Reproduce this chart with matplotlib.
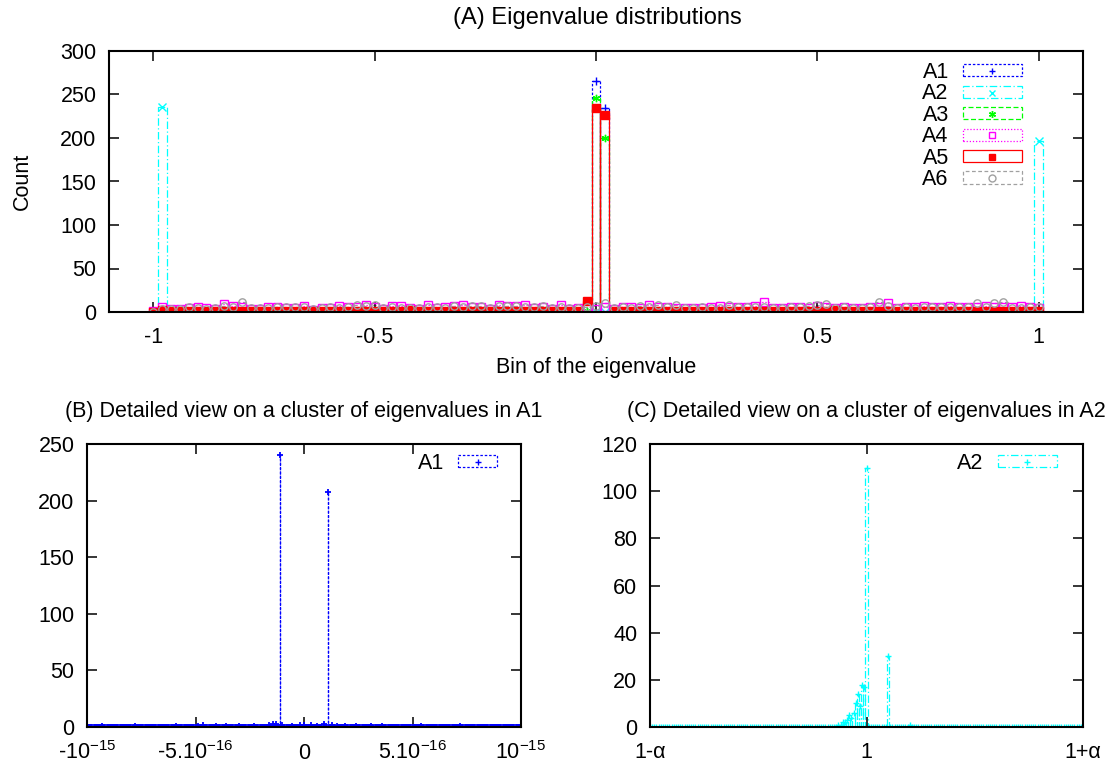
import numpy as np
import matplotlib
matplotlib.use('Agg')
import matplotlib.pyplot as plt
from matplotlib.patches import Patch
from matplotlib.lines import Line2D
from matplotlib.legend_handler import HandlerTuple

plt.rcParams['font.family'] = ['Liberation Sans', 'DejaVu Sans']
plt.rcParams['mathtext.fontset'] = 'custom'
plt.rcParams['mathtext.rm'] = 'Liberation Sans'
plt.rcParams['mathtext.it'] = 'Liberation Sans'
plt.rcParams['mathtext.default'] = 'regular'

# ---------------- data ----------------
# (A) 101 bins of width 0.02, centres from -1 to 1
bin_width = 0.02
bin_centers = np.round(np.arange(101) * bin_width - 1.0, 2)

A1 = [0] * 50 + [265, 234] + [0] * 49
A2 = [0, 236] + [0] * 98 + [196]
A3 = [0, 1, 0, 0, 0, 1, 0, 0, 0, 0,
      0, 0, 1, 0, 0, 0, 0, 0, 0, 1,
      0, 0, 0, 0, 0, 0, 0, 1, 0, 0,
      1, 0, 0, 0, 0, 0, 0, 0, 1, 0,
      0, 0, 0, 0, 1, 0, 0, 0, 0, 1,
      246,
      200, 1, 0, 0, 0, 0, 0, 0, 1, 0,
      0, 0, 0, 1, 0, 0, 0, 0, 0, 0,
      1, 0, 0, 0, 0, 0, 0, 1, 0, 0,
      0, 0, 0, 0, 0, 1, 0, 0, 0, 0,
      0, 0, 1, 0, 0, 0, 0, 0, 0, 0]
A4 = [1, 6, 4, 4, 5, 6, 5, 4, 9, 7,
      6, 4, 4, 6, 6, 5, 5, 7, 2, 5,
      5, 7, 6, 6, 8, 6, 3, 7, 7, 5,
      4, 8, 5, 6, 7, 8, 6, 6, 4, 8,
      7, 7, 8, 5, 6, 3, 8, 4, 5, 6,
      4,
      6, 3, 6, 6, 5, 8, 6, 6, 5, 5,
      5, 5, 6, 7, 6, 6, 6, 7, 11, 5,
      5, 6, 6, 5, 7, 6, 5, 6, 5, 5,
      6, 6, 10, 5, 6, 6, 7, 6, 6, 7,
      6, 6, 6, 7, 6, 6, 6, 7, 6, 5]
A5 = [0, 2, 1, 1, 1, 1, 1, 1, 1, 1,
      1, 1, 1, 1, 1, 1, 1, 1, 1, 1,
      1, 1, 1, 1, 1, 1, 1, 1, 1, 2,
      1, 1, 1, 1, 1, 1, 1, 1, 1, 1,
      1, 1, 1, 1, 1, 1, 1, 1, 1, 13,
      234,
      226, 1, 1, 1, 1, 1, 1, 1, 1, 1,
      1, 1, 1, 1, 1, 1, 1, 1, 1, 1,
      1, 1, 1, 1, 1, 1, 2, 1, 1, 1,
      1, 1, 1, 1, 1, 1, 1, 1, 1, 1,
      1, 1, 1, 1, 1, 1, 1, 1, 1, 1]
A6 = [0, 3, 3, 4, 6, 5, 4, 5, 7, 6,
      12, 5, 5, 5, 6, 6, 6, 6, 4, 5,
      6, 5, 6, 8, 7, 8, 5, 6, 5, 5,
      5, 6, 6, 5, 7, 6, 7, 7, 5, 7,
      7, 7, 6, 6, 7, 5, 6, 5, 5, 6,
      7,
      10, 5, 6, 5, 7, 6, 8, 6, 8, 5,
      5, 6, 5, 5, 8, 6, 6, 6, 6, 5,
      5, 6, 6, 7, 8, 9, 5, 6, 5, 5,
      6, 11, 7, 5, 6, 5, 6, 6, 6, 6,
      6, 6, 10, 6, 10, 11, 5, 5, 6, 6]

series_names = ['A1', 'A2', 'A3', 'A4', 'A5', 'A6']
series_values = [A1, A2, A3, A4, A5, A6]

# (B) cluster of eigenvalues of A1 around 0 (positions in units of 1e-16)
b_bin_width = 5e-18
b_grid = np.round(np.arange(-200, 201), 0) * b_bin_width
b_pos_e16 = [-9.3, -7.8, -5.9, -4.9, -4.65, -4.05, -3.6, -3.0, -2.3, -1.6,
             -1.45, -1.3, -1.11, -1.0, -0.55, -0.2, 0.0, 0.3, 0.6, 0.9,
             1.11, 1.3, 1.5, 1.9, 2.4, 3.1, 3.6, 5.4, 7.2]
b_counts = [1, 1, 1, 1, 2, 1, 1, 1, 1, 2,
            3, 3, 240, 2, 1, 2, 2, 2, 1, 3,
            208, 2, 1, 1, 1, 1, 1, 1, 1]

# (C) cluster of eigenvalues of A2 around 1 (positions in units of alpha)
c_bin_width = 0.01
c_grid = np.round(np.arange(-100, 101) * c_bin_width, 2)
c_pos = [-0.13, -0.12, -0.11, -0.10, -0.09, -0.08, -0.07, -0.06, -0.05,
         -0.04, -0.03, -0.02, -0.01, 0.00, 0.10, 0.20]
c_counts = [1, 1, 2, 2, 3, 5, 4, 6, 10, 14, 9, 18, 17, 110, 30, 1]

# ---------------- styles ----------------
colors = ['#0000ff', '#00ffff', '#00ff00', '#ff00ff', '#ff0000', '#a0a0a0']
linestyles = [(0, (2, 1.5)), (0, (6, 2, 1, 2)), (0, (4, 2)), (0, (1, 1.5)), '-', (0, (3, 2))]
markers = ['+', 'x', (6, 2, 0), 's', 's', 'o']
mfcs = [None, None, None, 'none', '#ff0000', 'none']

FS = 15.5
W, H = 1115, 767


def rect(l, t, r, b):
    return [l / W, 1 - b / H, (r - l) / W, (b - t) / H]


fig = plt.figure(figsize=(W / 100, H / 100), dpi=100)
axA = fig.add_axes(rect(109, 51, 1083, 312))
axB = fig.add_axes(rect(87, 444, 521, 727))
axC = fig.add_axes(rect(650, 444, 1083, 727))


def style(ax, xpad):
    for s in ax.spines.values():
        s.set_linewidth(1.5)
    ax.tick_params(direction='in', length=7, width=1.1, top=True, right=True,
                   labelsize=FS)
    ax.tick_params(axis='x', pad=xpad)
    ax.tick_params(axis='y', pad=9)
    for lab in ax.get_xticklabels():
        lab.set_va('baseline')


TUP = {tuple: HandlerTuple(ndivide=1, pad=0)}

# ---------------- panel A ----------------
handles = []
for name, vals, c, ls, m, mfc in zip(series_names, series_values, colors,
                                     linestyles, markers, mfcs):
    axA.bar(bin_centers, vals, width=bin_width, fill=False, edgecolor=c,
            linestyle=ls, linewidth=0.9)
    kw = dict(mfc=mfc) if mfc is not None else {}
    axA.plot(bin_centers, vals, linestyle='none', marker=m, color=c, ms=5.3,
             mew=1.0, **kw)
    p = Patch(facecolor='none', edgecolor=c, linestyle=ls, linewidth=0.9)
    l = Line2D([], [], linestyle='none', marker=m, color=c, ms=5, mew=1.0, **kw)
    handles.append((p, l))

axA.set_xlim(-1.1, 1.1)
axA.set_ylim(0, 300)
axA.set_xticks([-1, -0.5, 0, 0.5, 1])
axA.set_xticklabels(['-1', '-0.5', '0', '0.5', '1'])
axA.set_yticks(range(0, 301, 50))
style(axA, 22)
axA.legend(handles, series_names, handler_map=TUP,
           loc='upper right', bbox_to_anchor=((1022 - 109) / 974, 1 - (62 - 51) / 261),
           frameon=False, markerfirst=False, fontsize=FS, handlelength=2.75,
           handleheight=0.5, handletextpad=0.65, labelspacing=0.02,
           borderpad=0, borderaxespad=0)
axA.set_xlabel('Bin of the eigenvalue', fontsize=FS)
axA.xaxis.set_label_coords(0.5, (312 - 367) / 261)
axA.xaxis.label.set_va('center')
axA.set_ylabel('Count', fontsize=FS)
axA.yaxis.set_label_coords((22 - 109) / 974, 0.5)
axA.yaxis.label.set_va('center')

# ---------------- panel B ----------------
b_vals = np.zeros(len(b_grid))
for pos, cnt in zip(b_pos_e16, b_counts):
    b_vals[np.argmin(np.abs(b_grid - pos * 1e-16))] = cnt
axB.bar(b_grid, b_vals, width=b_bin_width * 0.3, fill=False, edgecolor=colors[0],
        linestyle=linestyles[0], linewidth=0.9)
axB.plot(b_grid, b_vals, linestyle='none', marker='+', color=colors[0], ms=5, mew=1.3)
axB.set_xlim(-1e-15, 1e-15)
axB.set_ylim(0, 250)
axB.set_xticks([-1e-15, -5e-16, 0, 5e-16, 1e-15])
axB.set_xticklabels([r'-$10^{-15}$', r'-5.$10^{-16}$', '0', r'5.$10^{-16}$', r'$10^{-15}$'])
axB.set_yticks(range(0, 251, 50))
style(axB, 23)
hB = (Patch(facecolor='none', edgecolor=colors[0], linestyle=linestyles[0], linewidth=0.9),
      Line2D([], [], linestyle='none', marker='+', color=colors[0], ms=5, mew=1.0))
axB.legend([hB], ['A1'], handler_map=TUP,
           loc='upper right', bbox_to_anchor=((497 - 87) / 434, 1 - (453 - 444) / 283),
           frameon=False, markerfirst=False, fontsize=FS, handlelength=1.8,
           handleheight=0.5, handletextpad=0.65, borderpad=0, borderaxespad=0)

# ---------------- panel C ----------------
c_vals = np.zeros(len(c_grid))
for pos, cnt in zip(c_pos, c_counts):
    c_vals[np.argmin(np.abs(c_grid - pos))] = cnt
axC.bar(c_grid, c_vals, width=c_bin_width, fill=False, edgecolor=colors[1],
        linestyle=linestyles[1], linewidth=0.9)
axC.plot(c_grid, c_vals, linestyle='none', marker='+', color=colors[1], ms=4.5, mew=1.0)
axC.set_xlim(-1, 1)
axC.set_ylim(0, 120)
axC.set_xticks([-1, 0, 1])
axC.set_xticklabels(['1-α', '1', '1+α'])
axC.set_yticks(range(0, 121, 20))
style(axC, 22)
hC = (Patch(facecolor='none', edgecolor=colors[1], linestyle=linestyles[1], linewidth=0.9),
      Line2D([], [], linestyle='none', marker='+', color=colors[1], ms=5, mew=1.0))
axC.legend([hC], ['A2'], handler_map=TUP,
           loc='upper right', bbox_to_anchor=((1057 - 650) / 433, 1 - (453 - 444) / 283),
           frameon=False, markerfirst=False, fontsize=FS, handlelength=2.75,
           handleheight=0.5, handletextpad=0.65, borderpad=0, borderaxespad=0)

# ---------------- titles ----------------
fig.text(597 / W, 1 - 18 / H, '(A) Eigenvalue distributions', ha='center', va='center',
         fontsize=17)
fig.text(304 / W, 1 - 412 / H, '(B) Detailed view on a cluster of eigenvalues in A1',
         ha='center', va='center', fontsize=FS)
fig.text(866 / W, 1 - 412 / H, '(C) Detailed view on a cluster of eigenvalues in A2',
         ha='center', va='center', fontsize=FS)

fig.savefig('out.png', dpi=100)
